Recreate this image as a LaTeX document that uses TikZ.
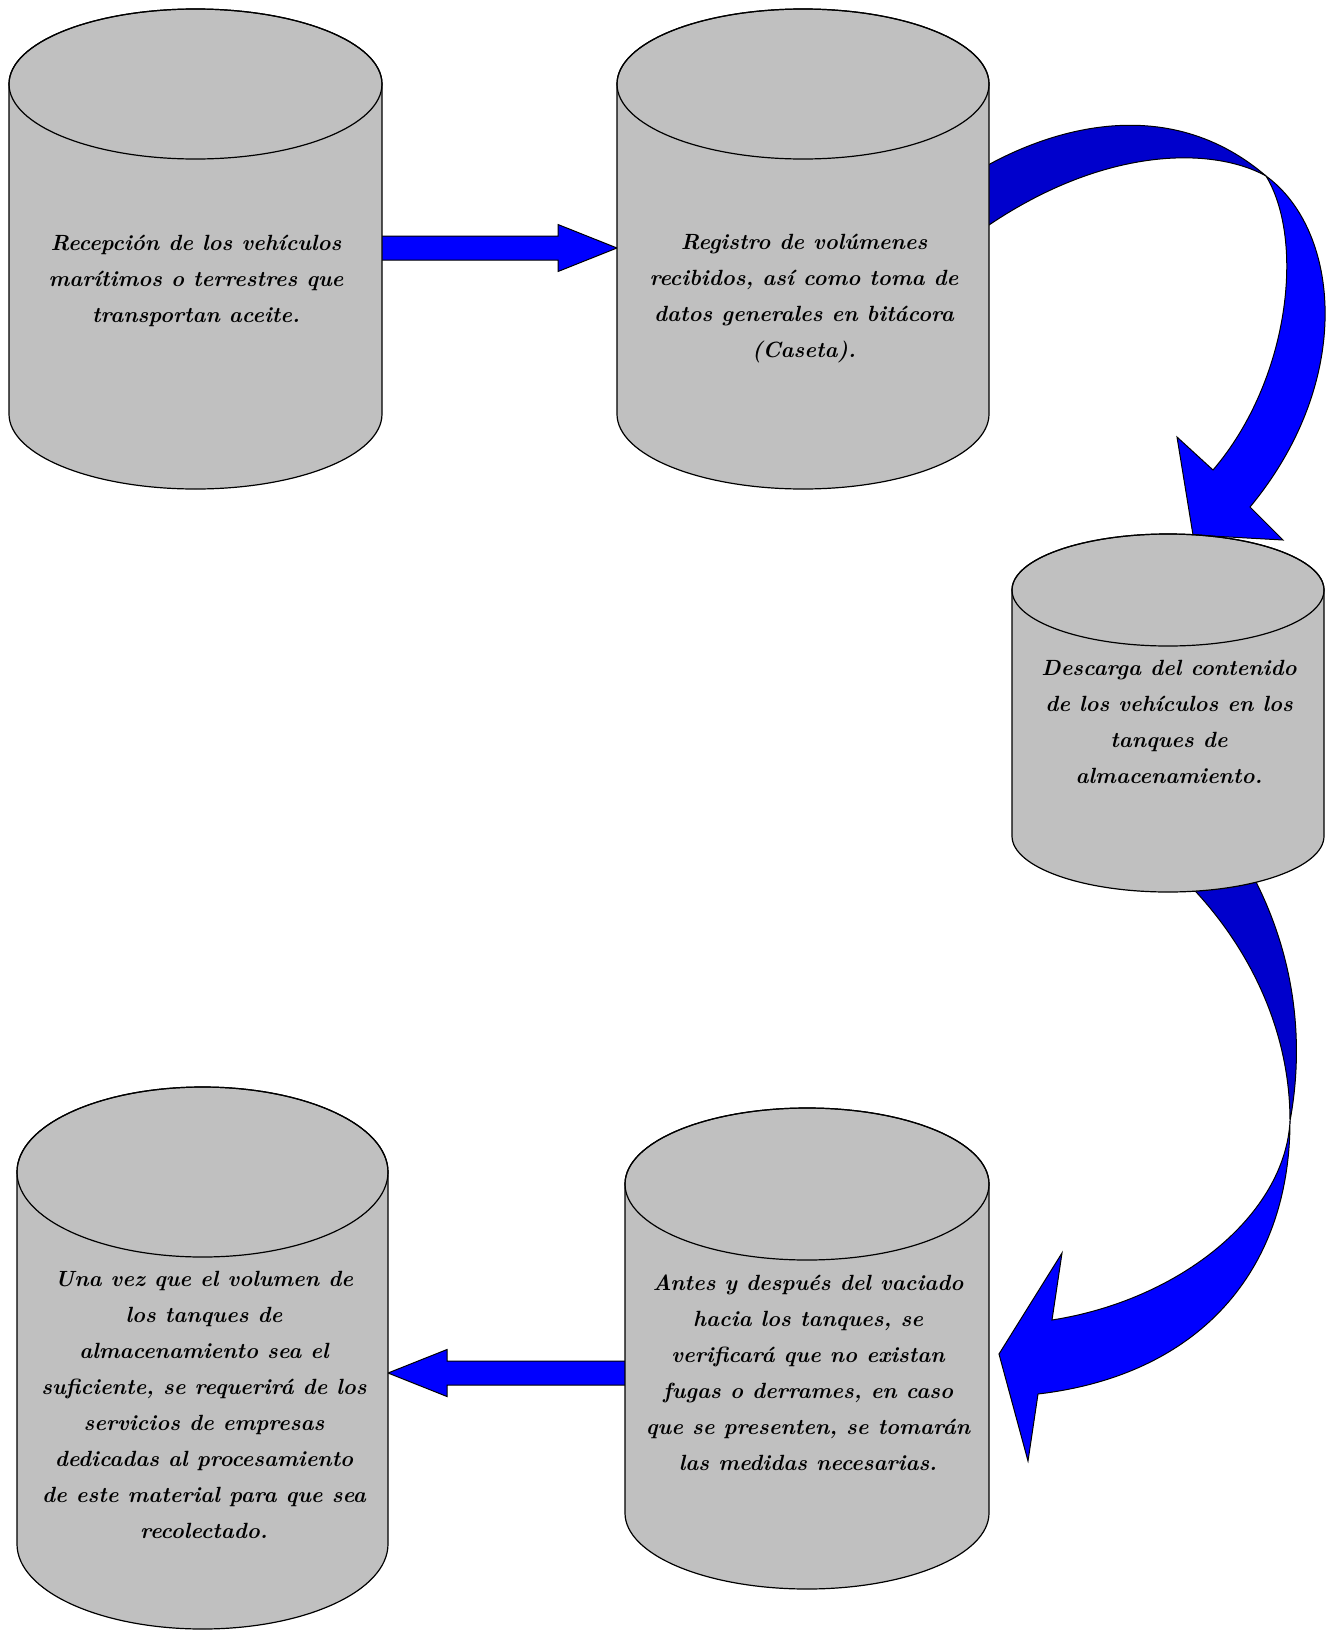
\documentclass[tikz,border=0pt]{standalone}
\usetikzlibrary{calc}

\definecolor{gristanque}{RGB}{192,192,192}
\definecolor{azulfrente}{RGB}{0,0,255}
\definecolor{azulfondo}{RGB}{0,0,204}

% tank: cx, cy (centre of the top ellipse), rx, ry, body height
\newcommand{\tanque}[5]{%
  \filldraw[tanque] (#1-#3,#2) -- (#1-#3,#2+#5)
    arc[start angle=180,end angle=0,x radius=#3,y radius=#4]
    -- (#1+#3,#2) arc[start angle=0,end angle=-180,x radius=#3,y radius=#4] -- cycle;
  \draw[tanque,fill=none] (#1,#2) ellipse[x radius=#3,y radius=#4];
}

% block arrow: tail, tip
\newcommand{\flecha}[2]{%
  \coordinate (fb) at ($(#2)!59pt!(#1)$);
  \filldraw[flecha] ($(#1)!12pt!90:(#2)$) -- ($(fb)!12pt!90:(#2)$)
    -- ($(fb)!23.5pt!90:(#2)$) -- (#2) -- ($(fb)!23.5pt!-90:(#2)$)
    -- ($(fb)!12pt!-90:(#2)$) -- ($(#1)!12pt!-90:(#2)$) -- cycle;
}

\begin{document}
\begin{tikzpicture}[x=1pt,y=-1pt]
    \tikzstyle{tanque}=[draw=black,line width=1.2pt,fill=gristanque]
    \tikzstyle{flecha}=[draw=black,line width=1pt,fill=azulfrente]
    \tikzstyle{cintafondo}=[draw=black,line width=1pt,fill=azulfondo,line join=round]
    \tikzstyle{cintafrente}=[draw=black,line width=1pt,fill=azulfrente,line join=miter]
    \tikzstyle{texto}=[align=center,inner sep=0pt,
      font=\fontsize{22}{36}\selectfont\bfseries\itshape]

    \useasboundingbox (0,0) rectangle (1332,1631);

    % straight arrows
    \coordinate (rec-out) at (370,248);
    \coordinate (reg-in) at (617,248);
    \coordinate (vac-out) at (640,1373);
    \coordinate (ser-in) at (388,1373);
    \flecha{rec-out}{reg-in}
    \flecha{vac-out}{ser-in}

    % twisted arrow from registro to descarga
    \coordinate (giro1) at (1266,176);
    \filldraw[cintafondo] (960,182) .. controls (1030,135) and (1160,85) .. (giro1)
      .. controls (1210,145) and (1090,145) .. (960,246) -- cycle;
    \filldraw[cintafrente] (giro1) .. controls (1340,230) and (1355,380) .. (1250,507)
      -- (1283,540) -- (1193,535) -- (1177,437) -- (1213,470)
      .. controls (1290,380) and (1305,240) .. (giro1) -- cycle;

    % twisted arrow from descarga to vaciado
    \coordinate (giro2) at (1290,1121);
    \filldraw[cintafondo] (1172,868) .. controls (1240,930) and (1290,1020) .. (giro2)
      .. controls (1305,1040) and (1295,950) .. (1247,865) -- cycle;
    \filldraw[cintafrente] (giro2) .. controls (1290,1270) and (1200,1375) .. (1038,1394)
      -- (1028,1461) -- (999,1354) -- (1062,1253) -- (1052,1320)
      .. controls (1180,1300) and (1285,1215) .. (giro2) -- cycle;

    % tanks
    \tanque{195.5}{84}{186.5}{75}{330}
    \tanque{803}{84}{186}{75}{330}
    \tanque{1168}{590}{156}{56}{246}
    \tanque{807}{1184}{182}{76}{329}
    \tanque{202.5}{1172}{185.5}{85}{372}

    \node[texto] (rec) at (196,281) {Recepción de los vehículos\\marítimos o terrestres que\\transportan aceite.};
    \node[texto] (reg) at (804,299) {Registro de volúmenes\\recibidos, así como toma de\\datos generales en bitácora\\(Caseta).};
    \node[texto] (des) at (1169,722) {Descarga del contenido\\de los vehículos en los\\tanques de\\almacenamiento.};
    \node[texto] (vac) at (808,1373) {Antes y después del vaciado\\hacia los tanques, se\\verificará que no existan\\fugas o derrames, en caso\\que se presenten, se tomarán\\las medidas necesarias.};
    \node[texto] (ser) at (204,1405) {Una vez que el volumen de\\los tanques de\\almacenamiento sea el\\suficiente, se requerirá de los\\servicios de empresas\\dedicadas al procesamiento\\de este material para que sea\\recolectado.};
\end{tikzpicture}
\end{document}
